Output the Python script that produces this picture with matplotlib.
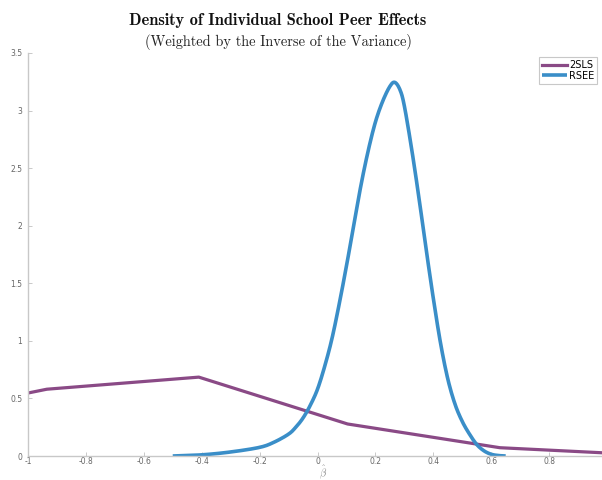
import matplotlib
matplotlib.use("Agg")
import matplotlib.pyplot as plt
import numpy as np

plt.rcParams['mathtext.fontset'] = 'cm'

# 2SLS density (piecewise)
tsls_x = [-1.0, -0.935, -0.41, 0.104, 0.63, 1.0]
tsls_y = [0.547, 0.58, 0.685, 0.278, 0.072, 0.026]

# RSEE density
rsee_x = [-0.50, -0.40, -0.30, -0.20, -0.15, -0.10, -0.075, -0.05, -0.025, 0.0, 0.025, 0.05, 0.075,
          0.10, 0.125, 0.15, 0.175, 0.20, 0.225, 0.25, 0.267, 0.285, 0.30, 0.325,
          0.35, 0.375, 0.40, 0.425, 0.45, 0.475, 0.50, 0.525, 0.55, 0.575, 0.60, 0.625, 0.65]
rsee_y = [0.0, 0.01, 0.035, 0.075, 0.12, 0.19, 0.25, 0.33, 0.44, 0.58, 0.78, 1.02, 1.32,
          1.65, 2.0, 2.35, 2.65, 2.9, 3.08, 3.21, 3.245, 3.18, 3.04, 2.67,
          2.25, 1.8, 1.37, 0.98, 0.67, 0.45, 0.30, 0.19, 0.10, 0.045, 0.015, 0.004, 0.0]

x_ticks = [-1, -0.8, -0.6, -0.4, -0.2, 0, 0.2, 0.4, 0.6, 0.8]
x_tick_labels = ['-1', '-0.8', '-0.6', '-0.4', '-0.2', '0', '0.2', '0.4', '0.6', '0.8']
y_ticks = [0, 0.5, 1, 1.5, 2, 2.5, 3, 3.5]
y_tick_labels = ['0', '0.5', '1', '1.5', '2', '2.5', '3', '3.5']


def catmull_rom(xs, ys, n=12):
    """Smooth curve through the given points (uniform Catmull-Rom)."""
    P = np.column_stack([xs, ys]).astype(float)
    P = np.vstack([P[0], P, P[-1]])
    out = []
    for i in range(1, len(P) - 2):
        p0, p1, p2, p3 = P[i - 1], P[i], P[i + 1], P[i + 2]
        t = np.linspace(0, 1, n, endpoint=False)[:, None]
        seg = 0.5 * ((2 * p1) + (-p0 + p2) * t + (2 * p0 - 5 * p1 + 4 * p2 - p3) * t ** 2
                     + (-p0 + 3 * p1 - 3 * p2 + p3) * t ** 3)
        out.append(seg)
    out.append(P[-2][None, :])
    S = np.vstack(out)
    return S[:, 0], np.clip(S[:, 1], 0, None)


fig = plt.figure(figsize=(6.02, 4.8), dpi=100)
ax = fig.add_axes([28/602, 1-456/480, (607-28)/602, (456-53)/480])
ax.plot(tsls_x, tsls_y, color='#8a4a86', lw=2.3, label='2SLS', solid_joinstyle='round')
sx, sy = catmull_rom(rsee_x, rsee_y)
ax.plot(sx, sy, color='#3a8ec8', lw=2.6, label='RSEE', solid_capstyle='butt')

ax.set_xlim(-1, 1)
ax.set_ylim(0, 3.5)
ax.set_xticks(x_ticks)
ax.set_xticklabels(x_tick_labels)
ax.set_yticks(y_ticks)
ax.set_yticklabels(y_tick_labels)
for s in ['top', 'right']:
    ax.spines[s].set_visible(False)
for s in ['left', 'bottom']:
    ax.spines[s].set_color('#c8c8c8')
    ax.spines[s].set_linewidth(1.0)
ax.tick_params(direction='in', length=3, width=0.6, colors='#c0c0c0',
               labelcolor='#666666', labelsize=5.5, pad=1)
ax.tick_params(axis='y', pad=4)

fig.text(323/602, 1-476/480, r'$\hat{\beta}$', fontsize=7.5, color='#888888',
         ha='center', va='baseline')

fig.text(0.462, 0.958, 'Density of Individual School Peer Effects', family='cmb10',
         fontsize=11.8, ha='center', va='center', color='#111111')
fig.text(0.462, 0.912, '(Weighted by the Inverse of the Variance)', family='cmr10',
         fontsize=10.4, ha='center', va='center', color='#222222')

leg = ax.legend(loc='upper right', bbox_to_anchor=(597/602, 1-57/480),
                bbox_transform=fig.transFigure, fontsize=7, handlelength=2.6,
                handletextpad=0.2, borderpad=0.3, labelspacing=0.1,
                fancybox=False, framealpha=1, borderaxespad=0)
leg.get_frame().set_edgecolor('#c8c8c8')
leg.get_frame().set_linewidth(0.8)

fig.savefig('out.png', dpi=100)
